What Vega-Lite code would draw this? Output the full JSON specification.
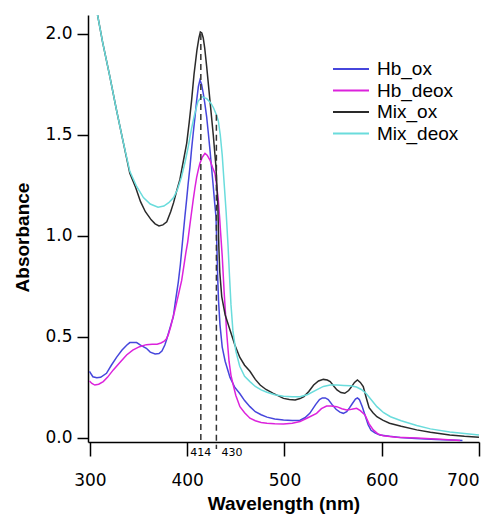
{
  "$schema": "https://vega.github.io/schema/vega-lite/v6.json",
  "width": 391,
  "height": 427,
  "autosize": {"type": "none"},
  "padding": {"left": 88, "top": 15, "right": 20, "bottom": 74},
  "background": "white",
  "config": {
    "view": {"stroke": null},
    "axis": {"grid": false, "domainColor": "black", "tickColor": "black", "domainWidth": 1.5, "tickWidth": 1.5, "labelColor": "black", "titleColor": "black", "labelFont": "DejaVu Sans", "labelFontSize": 17, "labelFontWeight": "normal", "titleFont": "Liberation Sans", "titleFontSize": 19, "titleFontWeight": "bold"}
  },
  "datasets": {
    "spectra": [
        {"s":"Hb_ox","w":299.5,"a":0.33},{"s":"Hb_ox","w":303,"a":0.303},{"s":"Hb_ox","w":307,"a":0.298},{"s":"Hb_ox","w":311,"a":0.3},{"s":"Hb_ox","w":317,"a":0.32},{"s":"Hb_ox","w":322,"a":0.36},{"s":"Hb_ox","w":327.5,"a":0.4},{"s":"Hb_ox","w":333,"a":0.435},{"s":"Hb_ox","w":338,"a":0.46},{"s":"Hb_ox","w":341,"a":0.472},{"s":"Hb_ox","w":348,"a":0.472},{"s":"Hb_ox","w":352,"a":0.46},{"s":"Hb_ox","w":358,"a":0.444},{"s":"Hb_ox","w":362,"a":0.425},{"s":"Hb_ox","w":367,"a":0.416},{"s":"Hb_ox","w":371,"a":0.418},{"s":"Hb_ox","w":374,"a":0.43},{"s":"Hb_ox","w":377,"a":0.46},{"s":"Hb_ox","w":379,"a":0.49},{"s":"Hb_ox","w":382,"a":0.54},{"s":"Hb_ox","w":385.7,"a":0.6},{"s":"Hb_ox","w":388,"a":0.68},{"s":"Hb_ox","w":390.8,"a":0.77},{"s":"Hb_ox","w":393,"a":0.86},{"s":"Hb_ox","w":395.9,"a":1.01},{"s":"Hb_ox","w":397.5,"a":1.09},{"s":"Hb_ox","w":399.4,"a":1.18},{"s":"Hb_ox","w":401,"a":1.26},{"s":"Hb_ox","w":402.8,"a":1.34},{"s":"Hb_ox","w":404.5,"a":1.43},{"s":"Hb_ox","w":406.2,"a":1.51},{"s":"Hb_ox","w":408,"a":1.59},{"s":"Hb_ox","w":409.7,"a":1.67},{"s":"Hb_ox","w":411.5,"a":1.74},{"s":"Hb_ox","w":413.1,"a":1.772},{"s":"Hb_ox","w":414.8,"a":1.75},{"s":"Hb_ox","w":416.5,"a":1.706},{"s":"Hb_ox","w":418,"a":1.66},{"s":"Hb_ox","w":420,"a":1.59},{"s":"Hb_ox","w":421.7,"a":1.51},{"s":"Hb_ox","w":423.4,"a":1.426},{"s":"Hb_ox","w":425,"a":1.34},{"s":"Hb_ox","w":426.8,"a":1.244},{"s":"Hb_ox","w":428.3,"a":1.16},{"s":"Hb_ox","w":429.6,"a":1.095},{"s":"Hb_ox","w":430.5,"a":0.95},{"s":"Hb_ox","w":431.3,"a":0.8},{"s":"Hb_ox","w":432.2,"a":0.68},{"s":"Hb_ox","w":433.7,"a":0.56},{"s":"Hb_ox","w":436,"a":0.45},{"s":"Hb_ox","w":439,"a":0.38},{"s":"Hb_ox","w":444,"a":0.3},{"s":"Hb_ox","w":449,"a":0.25},{"s":"Hb_ox","w":454,"a":0.22},{"s":"Hb_ox","w":459,"a":0.185},{"s":"Hb_ox","w":464.5,"a":0.155},{"s":"Hb_ox","w":470,"a":0.13},{"s":"Hb_ox","w":476,"a":0.115},{"s":"Hb_ox","w":482,"a":0.103},{"s":"Hb_ox","w":490,"a":0.094},{"s":"Hb_ox","w":499,"a":0.089},{"s":"Hb_ox","w":508,"a":0.086},{"s":"Hb_ox","w":516,"a":0.088},{"s":"Hb_ox","w":521,"a":0.1},{"s":"Hb_ox","w":526,"a":0.122},{"s":"Hb_ox","w":532,"a":0.165},{"s":"Hb_ox","w":536,"a":0.19},{"s":"Hb_ox","w":539,"a":0.198},{"s":"Hb_ox","w":542,"a":0.198},{"s":"Hb_ox","w":545,"a":0.19},{"s":"Hb_ox","w":549,"a":0.165},{"s":"Hb_ox","w":553,"a":0.142},{"s":"Hb_ox","w":557,"a":0.128},{"s":"Hb_ox","w":560.5,"a":0.122},{"s":"Hb_ox","w":564,"a":0.13},{"s":"Hb_ox","w":567,"a":0.15},{"s":"Hb_ox","w":570,"a":0.172},{"s":"Hb_ox","w":573,"a":0.192},{"s":"Hb_ox","w":575,"a":0.198},{"s":"Hb_ox","w":577,"a":0.19},{"s":"Hb_ox","w":580,"a":0.155},{"s":"Hb_ox","w":583,"a":0.11},{"s":"Hb_ox","w":586,"a":0.065},{"s":"Hb_ox","w":589,"a":0.038},{"s":"Hb_ox","w":593,"a":0.025},{"s":"Hb_ox","w":598,"a":0.015},{"s":"Hb_ox","w":608,"a":0.008},{"s":"Hb_ox","w":619,"a":0.002},{"s":"Hb_ox","w":635,"a":-0.003},{"s":"Hb_ox","w":656,"a":-0.008},{"s":"Hb_ox","w":670,"a":-0.01},{"s":"Hb_ox","w":683,"a":-0.012},

        {"s":"Hb_deox","w":299.5,"a":0.282},{"s":"Hb_deox","w":302,"a":0.27},{"s":"Hb_deox","w":305,"a":0.262},{"s":"Hb_deox","w":309,"a":0.266},{"s":"Hb_deox","w":313.7,"a":0.279},{"s":"Hb_deox","w":318,"a":0.3},{"s":"Hb_deox","w":324,"a":0.337},{"s":"Hb_deox","w":331,"a":0.375},{"s":"Hb_deox","w":337.7,"a":0.411},{"s":"Hb_deox","w":344,"a":0.435},{"s":"Hb_deox","w":351,"a":0.452},{"s":"Hb_deox","w":358,"a":0.462},{"s":"Hb_deox","w":364,"a":0.464},{"s":"Hb_deox","w":369,"a":0.464},{"s":"Hb_deox","w":373,"a":0.47},{"s":"Hb_deox","w":376,"a":0.478},{"s":"Hb_deox","w":378.5,"a":0.49},{"s":"Hb_deox","w":380.5,"a":0.51},{"s":"Hb_deox","w":383,"a":0.55},{"s":"Hb_deox","w":385,"a":0.59},{"s":"Hb_deox","w":387.4,"a":0.634},{"s":"Hb_deox","w":391,"a":0.71},{"s":"Hb_deox","w":394.3,"a":0.78},{"s":"Hb_deox","w":396.5,"a":0.85},{"s":"Hb_deox","w":398.7,"a":0.92},{"s":"Hb_deox","w":400.5,"a":0.97},{"s":"Hb_deox","w":402.1,"a":1.03},{"s":"Hb_deox","w":404,"a":1.1},{"s":"Hb_deox","w":406.2,"a":1.18},{"s":"Hb_deox","w":408,"a":1.24},{"s":"Hb_deox","w":409.7,"a":1.29},{"s":"Hb_deox","w":411.5,"a":1.33},{"s":"Hb_deox","w":413.1,"a":1.36},{"s":"Hb_deox","w":415.5,"a":1.39},{"s":"Hb_deox","w":418.3,"a":1.409},{"s":"Hb_deox","w":420.5,"a":1.4},{"s":"Hb_deox","w":423.4,"a":1.376},{"s":"Hb_deox","w":426,"a":1.34},{"s":"Hb_deox","w":428.5,"a":1.31},{"s":"Hb_deox","w":430,"a":1.26},{"s":"Hb_deox","w":432,"a":1.178},{"s":"Hb_deox","w":433.2,"a":1.1},{"s":"Hb_deox","w":434.4,"a":1.013},{"s":"Hb_deox","w":436,"a":0.9},{"s":"Hb_deox","w":438,"a":0.72},{"s":"Hb_deox","w":440.6,"a":0.52},{"s":"Hb_deox","w":443,"a":0.38},{"s":"Hb_deox","w":445,"a":0.31},{"s":"Hb_deox","w":447.4,"a":0.26},{"s":"Hb_deox","w":450,"a":0.21},{"s":"Hb_deox","w":454.2,"a":0.155},{"s":"Hb_deox","w":459,"a":0.125},{"s":"Hb_deox","w":464.5,"a":0.098},{"s":"Hb_deox","w":470,"a":0.085},{"s":"Hb_deox","w":476,"a":0.077},{"s":"Hb_deox","w":482,"a":0.073},{"s":"Hb_deox","w":490,"a":0.07},{"s":"Hb_deox","w":499,"a":0.069},{"s":"Hb_deox","w":508,"a":0.073},{"s":"Hb_deox","w":516,"a":0.081},{"s":"Hb_deox","w":524,"a":0.1},{"s":"Hb_deox","w":533,"a":0.122},{"s":"Hb_deox","w":538,"a":0.145},{"s":"Hb_deox","w":543.3,"a":0.158},{"s":"Hb_deox","w":548,"a":0.158},{"s":"Hb_deox","w":553.7,"a":0.155},{"s":"Hb_deox","w":559,"a":0.145},{"s":"Hb_deox","w":564,"a":0.139},{"s":"Hb_deox","w":569,"a":0.142},{"s":"Hb_deox","w":574.2,"a":0.147},{"s":"Hb_deox","w":578,"a":0.135},{"s":"Hb_deox","w":582.8,"a":0.114},{"s":"Hb_deox","w":587,"a":0.07},{"s":"Hb_deox","w":591.3,"a":0.04},{"s":"Hb_deox","w":596,"a":0.02},{"s":"Hb_deox","w":601.6,"a":0.011},{"s":"Hb_deox","w":615,"a":0.004},{"s":"Hb_deox","w":636,"a":0.0},{"s":"Hb_deox","w":660,"a":-0.006},{"s":"Hb_deox","w":680.5,"a":-0.013},

        {"s":"Mix_ox","w":300,"a":2.36},{"s":"Mix_ox","w":305,"a":2.17},{"s":"Mix_ox","w":308,"a":2.09},{"s":"Mix_ox","w":313,"a":1.96},{"s":"Mix_ox","w":320,"a":1.8},{"s":"Mix_ox","w":327,"a":1.63},{"s":"Mix_ox","w":334,"a":1.47},{"s":"Mix_ox","w":341,"a":1.31},{"s":"Mix_ox","w":347,"a":1.24},{"s":"Mix_ox","w":352,"a":1.17},{"s":"Mix_ox","w":357,"a":1.12},{"s":"Mix_ox","w":363,"a":1.08},{"s":"Mix_ox","w":367,"a":1.06},{"s":"Mix_ox","w":371,"a":1.05},{"s":"Mix_ox","w":375,"a":1.055},{"s":"Mix_ox","w":379,"a":1.07},{"s":"Mix_ox","w":383,"a":1.12},{"s":"Mix_ox","w":386,"a":1.165},{"s":"Mix_ox","w":389,"a":1.22},{"s":"Mix_ox","w":392.5,"a":1.28},{"s":"Mix_ox","w":396,"a":1.37},{"s":"Mix_ox","w":399.5,"a":1.46},{"s":"Mix_ox","w":402,"a":1.56},{"s":"Mix_ox","w":404.5,"a":1.67},{"s":"Mix_ox","w":407,"a":1.8},{"s":"Mix_ox","w":410,"a":1.92},{"s":"Mix_ox","w":412,"a":1.98},{"s":"Mix_ox","w":413.5,"a":2.01},{"s":"Mix_ox","w":415,"a":2.005},{"s":"Mix_ox","w":416.5,"a":1.98},{"s":"Mix_ox","w":418,"a":1.93},{"s":"Mix_ox","w":420,"a":1.84},{"s":"Mix_ox","w":423.4,"a":1.67},{"s":"Mix_ox","w":426.8,"a":1.5},{"s":"Mix_ox","w":429.6,"a":1.34},{"s":"Mix_ox","w":431.5,"a":1.15},{"s":"Mix_ox","w":432.5,"a":0.95},{"s":"Mix_ox","w":433.5,"a":0.82},{"s":"Mix_ox","w":435.5,"a":0.7},{"s":"Mix_ox","w":439,"a":0.61},{"s":"Mix_ox","w":444,"a":0.535},{"s":"Mix_ox","w":449,"a":0.46},{"s":"Mix_ox","w":454,"a":0.4},{"s":"Mix_ox","w":459,"a":0.36},{"s":"Mix_ox","w":464.5,"a":0.33},{"s":"Mix_ox","w":470,"a":0.29},{"s":"Mix_ox","w":475,"a":0.262},{"s":"Mix_ox","w":481,"a":0.24},{"s":"Mix_ox","w":488.5,"a":0.221},{"s":"Mix_ox","w":499,"a":0.196},{"s":"Mix_ox","w":505,"a":0.19},{"s":"Mix_ox","w":511,"a":0.188},{"s":"Mix_ox","w":516,"a":0.195},{"s":"Mix_ox","w":520,"a":0.205},{"s":"Mix_ox","w":525,"a":0.23},{"s":"Mix_ox","w":530,"a":0.262},{"s":"Mix_ox","w":535,"a":0.282},{"s":"Mix_ox","w":540,"a":0.29},{"s":"Mix_ox","w":544,"a":0.287},{"s":"Mix_ox","w":547,"a":0.279},{"s":"Mix_ox","w":551,"a":0.255},{"s":"Mix_ox","w":554,"a":0.238},{"s":"Mix_ox","w":558,"a":0.225},{"s":"Mix_ox","w":562,"a":0.221},{"s":"Mix_ox","w":566,"a":0.235},{"s":"Mix_ox","w":569,"a":0.254},{"s":"Mix_ox","w":572,"a":0.275},{"s":"Mix_ox","w":575,"a":0.287},{"s":"Mix_ox","w":578,"a":0.275},{"s":"Mix_ox","w":581,"a":0.254},{"s":"Mix_ox","w":584,"a":0.2},{"s":"Mix_ox","w":587,"a":0.15},{"s":"Mix_ox","w":591,"a":0.125},{"s":"Mix_ox","w":595,"a":0.105},{"s":"Mix_ox","w":601,"a":0.088},{"s":"Mix_ox","w":608,"a":0.073},{"s":"Mix_ox","w":620,"a":0.058},{"s":"Mix_ox","w":636,"a":0.04},{"s":"Mix_ox","w":650,"a":0.028},{"s":"Mix_ox","w":670,"a":0.015},{"s":"Mix_ox","w":685,"a":0.008},{"s":"Mix_ox","w":700,"a":0.003},

        {"s":"Mix_deox","w":300,"a":2.36},{"s":"Mix_deox","w":305,"a":2.17},{"s":"Mix_deox","w":308,"a":2.09},{"s":"Mix_deox","w":313,"a":1.96},{"s":"Mix_deox","w":320,"a":1.8},{"s":"Mix_deox","w":327,"a":1.63},{"s":"Mix_deox","w":334,"a":1.47},{"s":"Mix_deox","w":341,"a":1.32},{"s":"Mix_deox","w":348,"a":1.245},{"s":"Mix_deox","w":355,"a":1.19},{"s":"Mix_deox","w":362,"a":1.158},{"s":"Mix_deox","w":370,"a":1.142},{"s":"Mix_deox","w":376,"a":1.148},{"s":"Mix_deox","w":381,"a":1.165},{"s":"Mix_deox","w":386,"a":1.19},{"s":"Mix_deox","w":390,"a":1.23},{"s":"Mix_deox","w":394,"a":1.29},{"s":"Mix_deox","w":398,"a":1.37},{"s":"Mix_deox","w":401,"a":1.44},{"s":"Mix_deox","w":404,"a":1.52},{"s":"Mix_deox","w":407,"a":1.59},{"s":"Mix_deox","w":411,"a":1.665},{"s":"Mix_deox","w":415,"a":1.69},{"s":"Mix_deox","w":420,"a":1.68},{"s":"Mix_deox","w":424,"a":1.66},{"s":"Mix_deox","w":427,"a":1.635},{"s":"Mix_deox","w":430,"a":1.6},{"s":"Mix_deox","w":432,"a":1.57},{"s":"Mix_deox","w":434,"a":1.5},{"s":"Mix_deox","w":436,"a":1.4},{"s":"Mix_deox","w":438,"a":1.26},{"s":"Mix_deox","w":440,"a":1.12},{"s":"Mix_deox","w":442,"a":0.95},{"s":"Mix_deox","w":443.5,"a":0.8},{"s":"Mix_deox","w":445,"a":0.66},{"s":"Mix_deox","w":447,"a":0.53},{"s":"Mix_deox","w":450,"a":0.43},{"s":"Mix_deox","w":454,"a":0.355},{"s":"Mix_deox","w":459,"a":0.305},{"s":"Mix_deox","w":464.5,"a":0.279},{"s":"Mix_deox","w":470,"a":0.255},{"s":"Mix_deox","w":476,"a":0.238},{"s":"Mix_deox","w":482,"a":0.226},{"s":"Mix_deox","w":490,"a":0.214},{"s":"Mix_deox","w":499,"a":0.207},{"s":"Mix_deox","w":508,"a":0.204},{"s":"Mix_deox","w":516,"a":0.204},{"s":"Mix_deox","w":524,"a":0.215},{"s":"Mix_deox","w":533,"a":0.238},{"s":"Mix_deox","w":540,"a":0.255},{"s":"Mix_deox","w":547,"a":0.262},{"s":"Mix_deox","w":554,"a":0.262},{"s":"Mix_deox","w":561,"a":0.26},{"s":"Mix_deox","w":568,"a":0.258},{"s":"Mix_deox","w":574,"a":0.252},{"s":"Mix_deox","w":579,"a":0.24},{"s":"Mix_deox","w":584,"a":0.22},{"s":"Mix_deox","w":589,"a":0.19},{"s":"Mix_deox","w":595,"a":0.155},{"s":"Mix_deox","w":602,"a":0.125},{"s":"Mix_deox","w":609,"a":0.105},{"s":"Mix_deox","w":620,"a":0.085},{"s":"Mix_deox","w":636,"a":0.062},{"s":"Mix_deox","w":650,"a":0.045},{"s":"Mix_deox","w":670,"a":0.03},{"s":"Mix_deox","w":690,"a":0.02},{"s":"Mix_deox","w":700,"a":0.015}
    ],
    "marks": [{"w": 414, "y1": 2.0, "y2": -0.02}, {"w": 430, "y1": 1.6, "y2": -0.055}]
  },
  "layer": [
    {
      "data": {"name": "spectra"},
      "transform": [{"filter": "datum.s != 'Mix_deox'"}],
      "mark": {"type": "line", "strokeWidth": 1.5, "clip": true},
      "encoding": {
        "x": {"field": "w", "type": "quantitative", "scale": {"domain": [298, 700], "nice": false, "zero": false},
              "axis": {"values": [300, 400, 500, 600, 700], "title": "Wavelength (nm)", "tickSize": 14, "labelPadding": 16, "titlePadding": 6}},
        "y": {"field": "a", "type": "quantitative", "scale": {"domain": [-0.02, 2.094], "nice": false, "zero": false},
              "axis": {"values": [0, 0.5, 1, 1.5, 2], "format": ".1f", "title": "Absorbance", "tickSize": 11, "labelPadding": 5, "titlePadding": 12, "titleY": 222}},
        "color": {"field": "s", "type": "nominal",
                  "scale": {"domain": ["Hb_ox", "Hb_deox", "Mix_ox", "Mix_deox"], "range": ["#4646dc", "#dc22dc", "#2a2a2a", "#6adcdc"]},
                  "legend": {"orient": "none", "legendX": 253, "legendY": 44, "title": null, "symbolType": "M-2,0H2", "symbolSize": 324, "symbolStrokeWidth": 2, "labelFont": "Liberation Sans", "labelFontSize": 19, "labelColor": "black", "labelOffset": 16, "rowPadding": 1.5, "padding": 0}}
      }
    },
    {
      "data": {"name": "spectra"},
      "transform": [{"filter": "datum.s == 'Mix_deox'"}],
      "mark": {"type": "line", "strokeWidth": 1.5, "clip": true},
      "encoding": {
        "x": {"field": "w", "type": "quantitative"},
        "y": {"field": "a", "type": "quantitative"},
        "color": {"field": "s", "type": "nominal"}
      }
    },
    {
      "data": {"name": "marks"},
      "mark": {"type": "rule", "strokeDash": [6, 4], "strokeWidth": 1.5, "color": "#333333", "clip": false},
      "encoding": {"x": {"field": "w", "type": "quantitative"}, "y": {"field": "y1", "type": "quantitative"}, "y2": {"field": "y2"}}
    },
    {
      "data": {"values": [{"w": 414, "y": -0.075, "t": "414"}]},
      "mark": {"type": "text", "font": "DejaVu Sans", "fontSize": 11, "align": "center", "baseline": "middle", "color": "black", "clip": false},
      "encoding": {"x": {"field": "w", "type": "quantitative"}, "y": {"field": "y", "type": "quantitative"}, "text": {"field": "t"}}
    },
    {
      "data": {"values": [{"w": 430, "y": -0.075, "t": "430"}]},
      "mark": {"type": "text", "font": "DejaVu Sans", "fontSize": 11, "align": "left", "baseline": "middle", "dx": 5, "color": "black", "clip": false},
      "encoding": {"x": {"field": "w", "type": "quantitative"}, "y": {"field": "y", "type": "quantitative"}, "text": {"field": "t"}}
    }
  ]
}
